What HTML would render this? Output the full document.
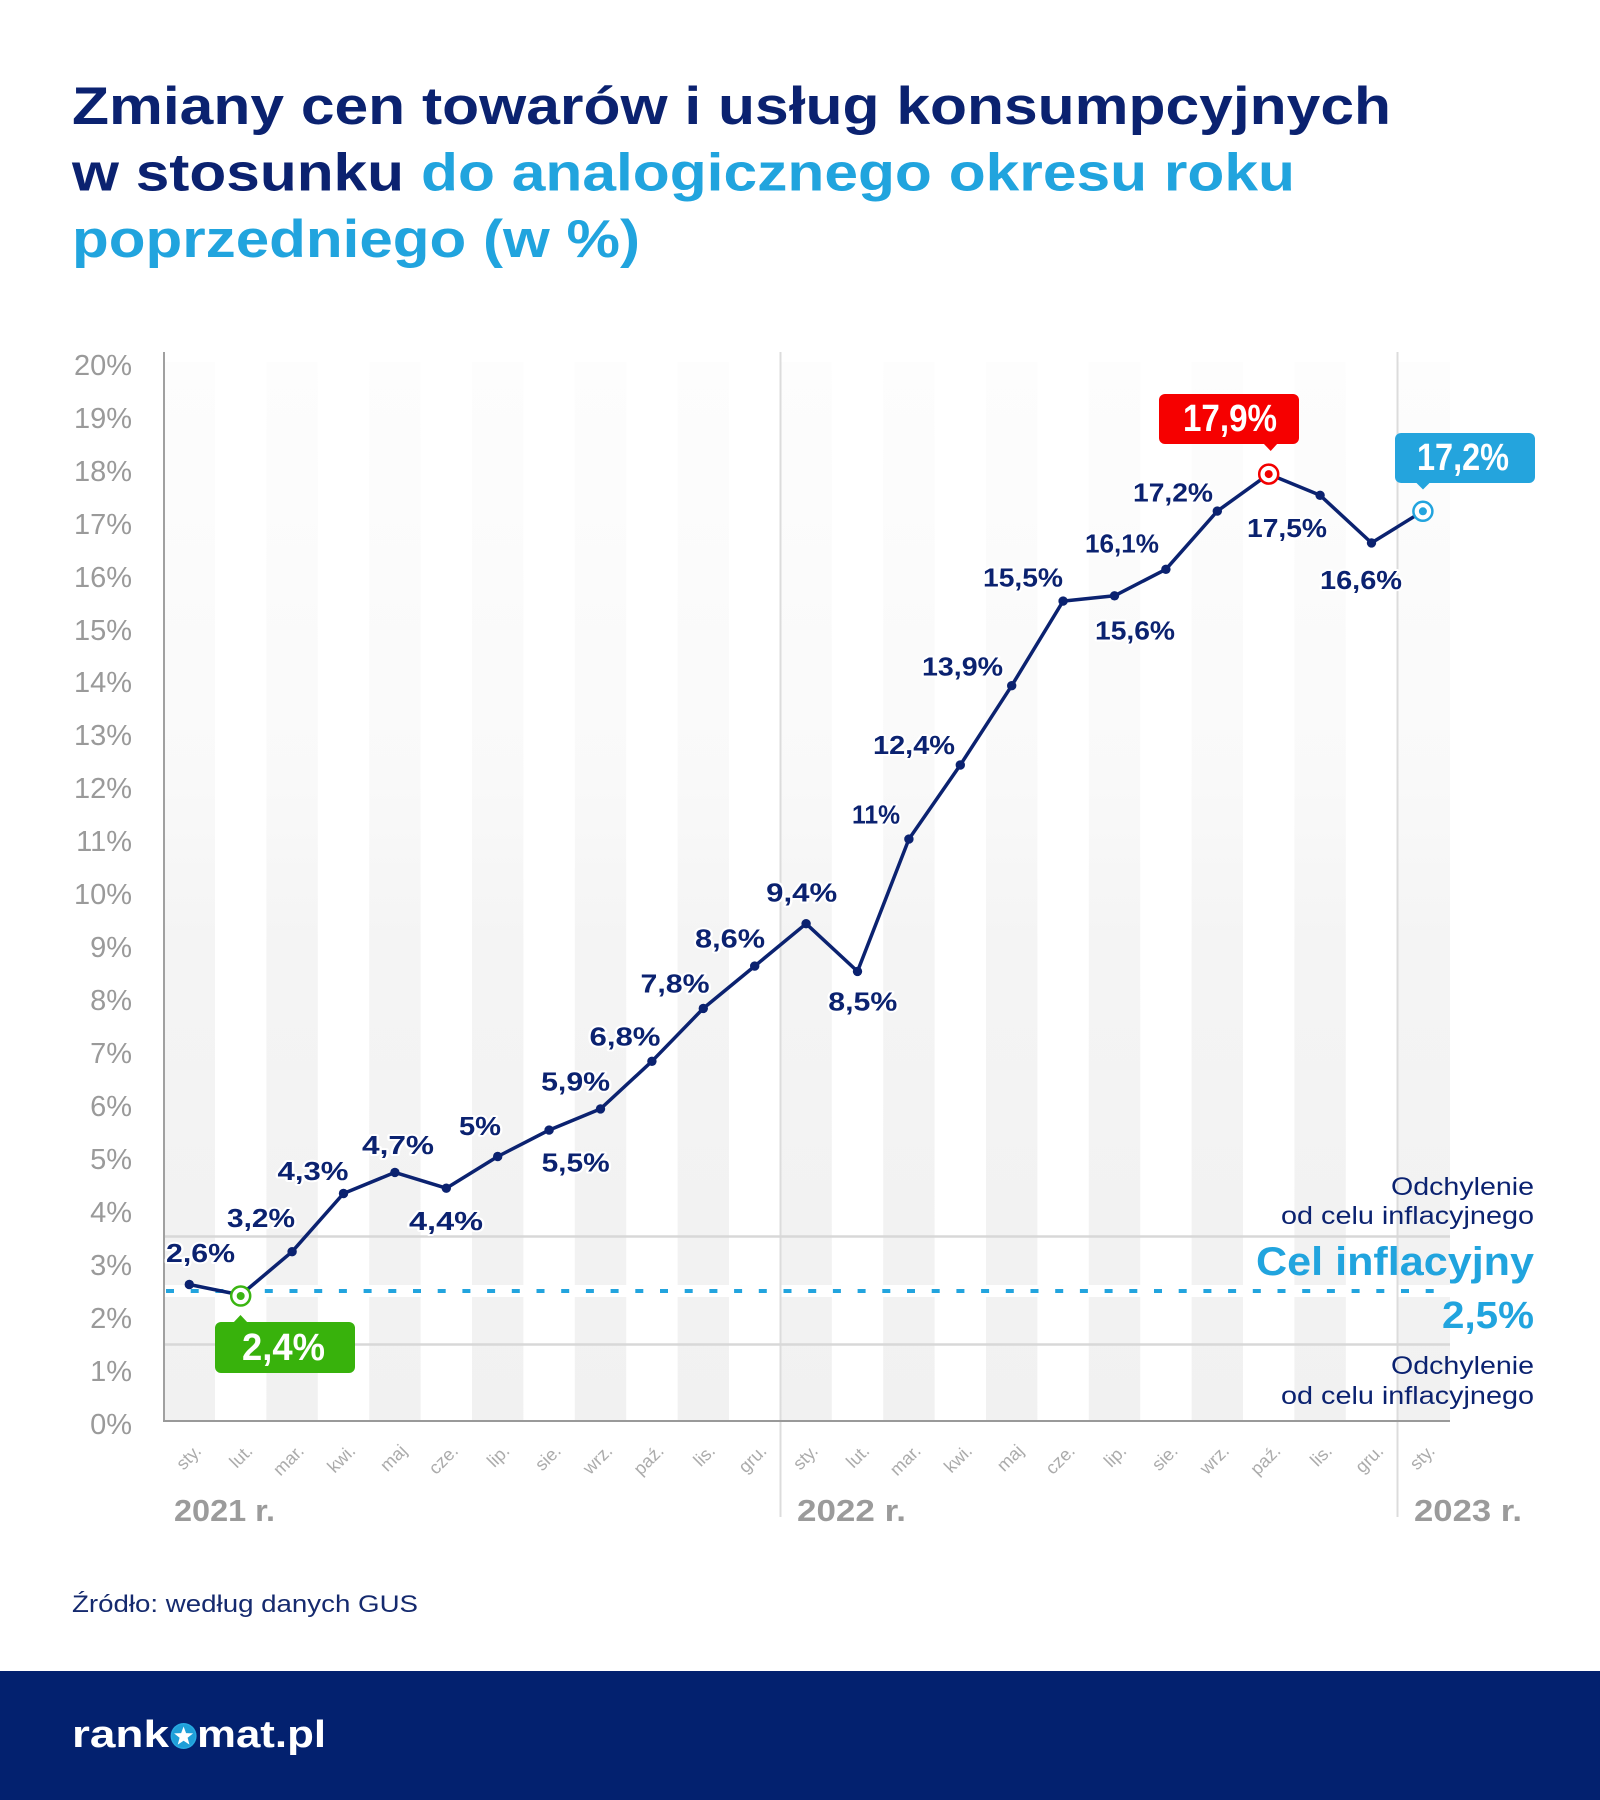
<!DOCTYPE html>
<html><head><meta charset="utf-8"><style>
html,body{margin:0;padding:0;background:#fff;}
svg{display:block;}
text{font-family:"Liberation Sans","DejaVu Sans",sans-serif;}
</style></head><body>
<svg width="1600" height="1800" viewBox="0 0 1600 1800" xmlns="http://www.w3.org/2000/svg">
<defs>
<linearGradient id="sg" x1="0" y1="362" x2="0" y2="1421" gradientUnits="userSpaceOnUse">
<stop offset="0" stop-color="#fdfdfd"/><stop offset="0.4" stop-color="#f9f9f9"/><stop offset="0.55" stop-color="#f4f4f4"/><stop offset="1" stop-color="#f1f1f1"/>
</linearGradient>
</defs>
<rect width="1600" height="1800" fill="#fff"/>
<!-- title -->
<g font-weight="700" font-size="53">
<text x="72" y="124" fill="#0b2270" textLength="1319" lengthAdjust="spacingAndGlyphs">Zmiany cen towarów i usług konsumpcyjnych</text>
<text x="72" y="190.7" fill="#0b2270" textLength="332" lengthAdjust="spacingAndGlyphs">w stosunku</text>
<text x="421" y="190.7" fill="#21a4de" textLength="874" lengthAdjust="spacingAndGlyphs">do analogicznego okresu roku</text>
<text x="72" y="257" fill="#21a4de" textLength="568" lengthAdjust="spacingAndGlyphs">poprzedniego (w %)</text>
</g>
<!-- stripes -->
<g fill="url(#sg)">
<rect x="164" y="362" width="51" height="1059"/>
<rect x="266.4" y="362" width="51.4" height="1059"/>
<rect x="369.2" y="362" width="51.4" height="1059"/>
<rect x="472" y="362" width="51.4" height="1059"/>
<rect x="574.8" y="362" width="51.4" height="1059"/>
<rect x="677.6" y="362" width="51.4" height="1059"/>
<rect x="780.4" y="362" width="51.4" height="1059"/>
<rect x="883.2" y="362" width="51.4" height="1059"/>
<rect x="986" y="362" width="51.4" height="1059"/>
<rect x="1088.8" y="362" width="51.4" height="1059"/>
<rect x="1191.6" y="362" width="51.4" height="1059"/>
<rect x="1294.4" y="362" width="51.4" height="1059"/>
<rect x="1397.2" y="362" width="52.8" height="1059"/>
</g>
<rect x="165" y="1285" width="1285" height="12" fill="#fff"/>
<!-- dividers -->
<line x1="780.5" y1="352" x2="780.5" y2="1517" stroke="#dcdcdc" stroke-width="2"/>
<line x1="1397.5" y1="352" x2="1397.5" y2="1517" stroke="#dcdcdc" stroke-width="2"/>
<!-- gridlines -->
<line x1="164" y1="1236.5" x2="1450" y2="1236.5" stroke="#d8d8d8" stroke-width="2.5"/>
<line x1="164" y1="1344.5" x2="1450" y2="1344.5" stroke="#d8d8d8" stroke-width="2.5"/>
<!-- dashed target -->
<line x1="166" y1="1291" x2="1450" y2="1291" stroke="#22a4de" stroke-width="4" stroke-dasharray="8 16.7"/>
<!-- axes -->
<line x1="164" y1="352" x2="164" y2="1422" stroke="#a0a0a0" stroke-width="2"/>
<line x1="163" y1="1421" x2="1450" y2="1421" stroke="#999" stroke-width="2"/>
<!-- y labels -->
<g font-size="29" fill="#9a9a9a" text-anchor="end">
<text x="132" y="375">20%</text>
<text x="132" y="428">19%</text>
<text x="132" y="481">18%</text>
<text x="132" y="534">17%</text>
<text x="132" y="587">16%</text>
<text x="132" y="640">15%</text>
<text x="132" y="692">14%</text>
<text x="132" y="745">13%</text>
<text x="132" y="798">12%</text>
<text x="132" y="851">11%</text>
<text x="132" y="904">10%</text>
<text x="132" y="957">9%</text>
<text x="132" y="1010">8%</text>
<text x="132" y="1063">7%</text>
<text x="132" y="1116">6%</text>
<text x="132" y="1169">5%</text>
<text x="132" y="1222">4%</text>
<text x="132" y="1275">3%</text>
<text x="132" y="1328">2%</text>
<text x="132" y="1381">1%</text>
<text x="132" y="1434">0%</text>
</g>
<!-- month labels -->
<g font-size="18" fill="#ababab" text-anchor="end">
<text transform="translate(202.3,1452) rotate(-45)">sty.</text>
<text transform="translate(253.7,1452) rotate(-45)">lut.</text>
<text transform="translate(305.1,1452) rotate(-45)">mar.</text>
<text transform="translate(356.5,1452) rotate(-45)">kwi.</text>
<text transform="translate(407.9,1452) rotate(-45)">maj</text>
<text transform="translate(459.3,1452) rotate(-45)">cze.</text>
<text transform="translate(510.7,1452) rotate(-45)">lip.</text>
<text transform="translate(562.1,1452) rotate(-45)">sie.</text>
<text transform="translate(613.5,1452) rotate(-45)">wrz.</text>
<text transform="translate(664.9,1452) rotate(-45)">paź.</text>
<text transform="translate(716.3,1452) rotate(-45)">lis.</text>
<text transform="translate(767.7,1452) rotate(-45)">gru.</text>
<text transform="translate(819.1,1452) rotate(-45)">sty.</text>
<text transform="translate(870.5,1452) rotate(-45)">lut.</text>
<text transform="translate(921.9,1452) rotate(-45)">mar.</text>
<text transform="translate(973.3,1452) rotate(-45)">kwi.</text>
<text transform="translate(1024.7,1452) rotate(-45)">maj</text>
<text transform="translate(1076.1,1452) rotate(-45)">cze.</text>
<text transform="translate(1127.5,1452) rotate(-45)">lip.</text>
<text transform="translate(1178.9,1452) rotate(-45)">sie.</text>
<text transform="translate(1230.3,1452) rotate(-45)">wrz.</text>
<text transform="translate(1281.7,1452) rotate(-45)">paź.</text>
<text transform="translate(1333.1,1452) rotate(-45)">lis.</text>
<text transform="translate(1384.5,1452) rotate(-45)">gru.</text>
<text transform="translate(1435.9,1452) rotate(-45)">sty.</text>
</g>
<!-- years -->
<g font-size="31" font-weight="700" fill="#9b9b9b">
<text x="174" y="1521" textLength="101" lengthAdjust="spacingAndGlyphs">2021 r.</text>
<text x="797" y="1521" textLength="109" lengthAdjust="spacingAndGlyphs">2022 r.</text>
<text x="1414" y="1521" textLength="108" lengthAdjust="spacingAndGlyphs">2023 r.</text>
</g>
<!-- right legend -->
<g text-anchor="end">
<text x="1534" y="1195" font-size="25" fill="#0b2270" textLength="143" lengthAdjust="spacingAndGlyphs">Odchylenie</text>
<text x="1534" y="1224" font-size="25" fill="#0b2270" textLength="253" lengthAdjust="spacingAndGlyphs">od celu inflacyjnego</text>
<text x="1534" y="1275" font-size="40" font-weight="700" fill="#21a4de" textLength="278" lengthAdjust="spacingAndGlyphs">Cel inflacyjny</text>
<text x="1534" y="1328" font-size="38" font-weight="700" fill="#21a4de" textLength="92" lengthAdjust="spacingAndGlyphs">2,5%</text>
<text x="1534" y="1374" font-size="25" fill="#0b2270" textLength="143" lengthAdjust="spacingAndGlyphs">Odchylenie</text>
<text x="1534" y="1404" font-size="25" fill="#0b2270" textLength="253" lengthAdjust="spacingAndGlyphs">od celu inflacyjnego</text>
</g>
<!-- data line -->
<polyline fill="none" stroke="#0b2270" stroke-width="3.5" stroke-linejoin="round" points="189.3,1284.5 240.7,1295 292.1,1251.7 343.5,1193.5 394.9,1172.4 446.3,1188.2 497.7,1156.5 549.1,1130.1 600.5,1108.9 651.9,1061.3 703.3,1008.4 754.7,966.1 806.1,923.7 857.5,971.4 908.9,839.1 960.3,765 1011.7,685.7 1063.1,601.1 1114.5,595.8 1165.9,569.3 1217.3,511.1 1268.7,474.1 1320.1,495.3 1371.5,542.9 1422.9,511.1"/>
<g fill="#0b2270">
<circle cx="189.3" cy="1284.5" r="4.7"/>
<circle cx="292.1" cy="1251.7" r="4.7"/>
<circle cx="343.5" cy="1193.5" r="4.7"/>
<circle cx="394.9" cy="1172.4" r="4.7"/>
<circle cx="446.3" cy="1188.2" r="4.7"/>
<circle cx="497.7" cy="1156.5" r="4.7"/>
<circle cx="549.1" cy="1130.1" r="4.7"/>
<circle cx="600.5" cy="1108.9" r="4.7"/>
<circle cx="651.9" cy="1061.3" r="4.7"/>
<circle cx="703.3" cy="1008.4" r="4.7"/>
<circle cx="754.7" cy="966.1" r="4.7"/>
<circle cx="806.1" cy="923.7" r="4.7"/>
<circle cx="857.5" cy="971.4" r="4.7"/>
<circle cx="908.9" cy="839.1" r="4.7"/>
<circle cx="960.3" cy="765" r="4.7"/>
<circle cx="1011.7" cy="685.7" r="4.7"/>
<circle cx="1063.1" cy="601.1" r="4.7"/>
<circle cx="1114.5" cy="595.8" r="4.7"/>
<circle cx="1165.9" cy="569.3" r="4.7"/>
<circle cx="1217.3" cy="511.1" r="4.7"/>
<circle cx="1320.1" cy="495.3" r="4.7"/>
<circle cx="1371.5" cy="542.9" r="4.7"/>
</g>
<!-- highlighted markers -->
<circle cx="240.7" cy="1296" r="9.5" fill="#fff" stroke="#3bb512" stroke-width="2.5"/>
<circle cx="240.7" cy="1296" r="4" fill="#3bb512"/>
<circle cx="1268.7" cy="474.1" r="9.5" fill="#fff" stroke="#f20000" stroke-width="2.5"/>
<circle cx="1268.7" cy="474.1" r="4" fill="#f20000"/>
<circle cx="1422.9" cy="511.3" r="9.5" fill="#fff" stroke="#22a4de" stroke-width="2.5"/>
<circle cx="1422.9" cy="511.3" r="4" fill="#22a4de"/>
<!-- data labels -->
<g font-size="26" font-weight="700" fill="#0b2270" text-anchor="middle" stroke="#fff" stroke-width="4" paint-order="stroke" stroke-linejoin="round">
<text x="200.5" y="1262" textLength="69" lengthAdjust="spacingAndGlyphs">2,6%</text>
<text x="261" y="1227" textLength="68" lengthAdjust="spacingAndGlyphs">3,2%</text>
<text x="313" y="1180" textLength="71" lengthAdjust="spacingAndGlyphs">4,3%</text>
<text x="398" y="1154" textLength="72" lengthAdjust="spacingAndGlyphs">4,7%</text>
<text x="446" y="1230" textLength="74" lengthAdjust="spacingAndGlyphs">4,4%</text>
<text x="480" y="1135" textLength="42" lengthAdjust="spacingAndGlyphs">5%</text>
<text x="575.6" y="1171.7" textLength="68" lengthAdjust="spacingAndGlyphs">5,5%</text>
<text x="575.6" y="1090.7" textLength="69" lengthAdjust="spacingAndGlyphs">5,9%</text>
<text x="625" y="1045.7" textLength="71" lengthAdjust="spacingAndGlyphs">6,8%</text>
<text x="675" y="992.3" textLength="69" lengthAdjust="spacingAndGlyphs">7,8%</text>
<text x="730" y="947.3" textLength="70" lengthAdjust="spacingAndGlyphs">8,6%</text>
<text x="801.7" y="901.7" textLength="71" lengthAdjust="spacingAndGlyphs">9,4%</text>
<text x="862.8" y="1010.7" textLength="69" lengthAdjust="spacingAndGlyphs">8,5%</text>
<text x="876" y="823.3" textLength="48" lengthAdjust="spacingAndGlyphs">11%</text>
<text x="914" y="754" textLength="82" lengthAdjust="spacingAndGlyphs">12,4%</text>
<text x="962.5" y="675.7" textLength="81" lengthAdjust="spacingAndGlyphs">13,9%</text>
<text x="1023" y="586.7" textLength="80" lengthAdjust="spacingAndGlyphs">15,5%</text>
<text x="1135" y="639.3" textLength="80" lengthAdjust="spacingAndGlyphs">15,6%</text>
<text x="1122" y="552.3" textLength="74" lengthAdjust="spacingAndGlyphs">16,1%</text>
<text x="1173" y="501.7" textLength="80" lengthAdjust="spacingAndGlyphs">17,2%</text>
<text x="1287" y="537" textLength="80" lengthAdjust="spacingAndGlyphs">17,5%</text>
<text x="1361" y="589" textLength="82" lengthAdjust="spacingAndGlyphs">16,6%</text>
</g>
<!-- callouts -->
<rect x="1159" y="394" width="140" height="50" rx="6" fill="#f60000"/>
<polygon points="1263,443 1278,443 1270.7,451" fill="#f60000"/>
<rect x="1395" y="433" width="140" height="50" rx="6" fill="#24a4dd"/>
<polygon points="1415.5,482 1430.5,482 1423,489.5" fill="#24a4dd"/>
<rect x="215" y="1322" width="140" height="51" rx="6" fill="#38b20c"/>
<polygon points="233,1323 248,1323 240.5,1315" fill="#38b20c"/>
<g font-size="38" font-weight="700" fill="#fff" text-anchor="middle">
<text x="1230" y="431" textLength="94" lengthAdjust="spacingAndGlyphs">17,9%</text>
<text x="1463" y="470" textLength="92" lengthAdjust="spacingAndGlyphs">17,2%</text>
<text x="283.5" y="1360" textLength="83" lengthAdjust="spacingAndGlyphs">2,4%</text>
</g>
<!-- source -->
<text x="72" y="1612" font-size="24" fill="#152a6e" textLength="346" lengthAdjust="spacingAndGlyphs">Źródło: według danych GUS</text>
<!-- footer -->
<rect x="0" y="1671" width="1600" height="129" fill="#03216f"/>
<g font-size="38" font-weight="700" fill="#fff">
<text x="72" y="1747" textLength="97" lengthAdjust="spacingAndGlyphs">rank</text>
<text x="197" y="1747" textLength="129" lengthAdjust="spacingAndGlyphs">mat.pl</text>
</g>
<circle cx="183.6" cy="1736" r="13" fill="#27a9e1"/>
<circle cx="183.6" cy="1736" r="11.5" fill="#1f9fd8"/>
<polygon transform="translate(183.6,1736.5)" fill="#fff" points="0,-10 2.47,-3.4 9.51,-3.09 3.99,1.3 5.88,8.09 0,4.2 -5.88,8.09 -3.99,1.3 -9.51,-3.09 -2.47,-3.4"/>
</svg>
</body></html>
